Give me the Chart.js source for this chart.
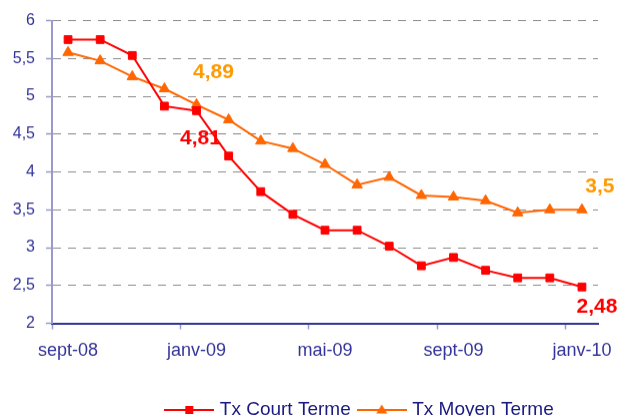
<!DOCTYPE html>
<html>
<head>
<meta charset="utf-8">
<script src="https://cdn.jsdelivr.net/npm/chart.js@4.4.1/dist/chart.umd.min.js"></script>
<style>
  html, body { margin: 0; padding: 0; background: #fff; overflow: hidden; }
  #wrap { width: 624px; height: 428.5px; }
</style>
</head>
<body>
<div id="wrap"><canvas id="chart"></canvas></div>
<script>
const months = ["sept-08", "oct-08", "nov-08", "déc-08", "janv-09", "févr-09", "mars-09", "avr-09",
  "mai-09", "juin-09", "juil-09", "août-09", "sept-09", "oct-09", "nov-09", "déc-09", "janv-10"];
const courtTerme = [5.75, 5.75, 5.54, 4.87, 4.81, 4.21, 3.74, 3.44, 3.23, 3.23, 3.02, 2.76, 2.87, 2.70, 2.60, 2.60, 2.48];
const moyenTerme = [5.58, 5.47, 5.26, 5.10, 4.89, 4.69, 4.41, 4.31, 4.10, 3.83, 3.93, 3.69, 3.67, 3.62, 3.46, 3.5, 3.5];
const seriesNames = ["Tx Court Terme", "Tx Moyen Terme"];
const yMin = 2, yMax = 6, yStep = 0.5;

const FONT = "'Liberation Sans', Arial, sans-serif";
const NAVY = "#333399";
const RED = "#ff0000";
const ORANGE = "#ff6600";

// value labels shown next to some points
const valueLabels = [
  { ds: 1, index: 4, dx: 17, dy: -32, color: "#ff9900" },
  { ds: 0, index: 4, dx: 4, dy: 28, color: RED },
  { ds: 1, index: 16, dx: 18, dy: -23, color: "#ff9900" },
  { ds: 0, index: 16, dx: 15, dy: 20, color: RED }
];

function fmt(v) {
  return String(v).replace(".", ",");
}

// legend icon: line with the marker in the middle
function legendIcon(color, style) {
  const c = document.createElement("canvas");
  c.width = 50;
  c.height = 14;
  const g = c.getContext("2d");
  g.strokeStyle = color;
  g.fillStyle = color;
  g.lineWidth = 2;
  g.beginPath();
  g.moveTo(0, 7);
  g.lineTo(50, 7);
  g.stroke();
  g.beginPath();
  if (style === "rect") {
    g.rect(21, 3, 8, 8);
  } else {
    g.moveTo(25, 1.5);
    g.lineTo(30.5, 10.5);
    g.lineTo(19.5, 10.5);
    g.closePath();
  }
  g.fill();
  return c;
}

const valueLabelPlugin = {
  id: "valueLabels",
  afterDatasetsDraw(chart) {
    const ctx = chart.ctx;
    ctx.save();
    ctx.font = "bold 21px " + FONT;
    ctx.textAlign = "center";
    ctx.textBaseline = "middle";
    valueLabels.forEach(l => {
      const pt = chart.getDatasetMeta(l.ds).data[l.index];
      const v = chart.data.datasets[l.ds].data[l.index];
      ctx.fillStyle = l.color;
      ctx.fillText(fmt(v), pt.x + l.dx, pt.y + l.dy);
    });
    ctx.restore();
  }
};

// the legend sits a bit right of centre in the original
const legendShift = {
  id: "legendShift",
  afterLayout(chart) {
    chart.legend.left += 62;
    chart.legend.right += 62;
  }
};

new Chart(document.getElementById("chart"), {
  type: "line",
  data: {
    labels: months,
    datasets: [
      {
        label: seriesNames[0],
        data: courtTerme,
        borderColor: RED,
        backgroundColor: RED,
        borderWidth: 2,
        pointStyle: "rect",
        pointRadius: 5.5,
        pointBorderWidth: 1,
        tension: 0
      },
      {
        label: seriesNames[1],
        data: moyenTerme,
        borderColor: ORANGE,
        backgroundColor: ORANGE,
        borderWidth: 2,
        pointStyle: "triangle",
        pointRadius: 6,
        pointBorderWidth: 1,
        tension: 0
      }
    ]
  },
  options: {
    responsive: true,
    maintainAspectRatio: false,
    animation: false,
    layout: { padding: { top: 20, right: 26, left: 0, bottom: 0 } },
    plugins: {
      tooltip: { enabled: false },
      legend: {
        position: "bottom",
        labels: {
          usePointStyle: true,
          pointStyleWidth: 42,
          padding: 10,
          color: "#1a1a80",
          font: { family: FONT, size: 19 },
          generateLabels: chart => chart.data.datasets.map((ds, i) => ({
            text: ds.label,
            pointStyle: legendIcon(ds.borderColor, ds.pointStyle),
            fillStyle: ds.backgroundColor,
            strokeStyle: ds.borderColor,
            lineWidth: 0,
            fontColor: "#1a1a80",
            datasetIndex: i
          }))
        }
      }
    },
    scales: {
      x: {
        offset: true,
        ticks: {
          autoSkip: false,
          maxRotation: 0,
          color: NAVY,
          padding: 11,
          font: { family: FONT, size: 18 },
          callback: (v, i) => i % 4 === 0 ? months[i] : ""
        },
        grid: {
          offset: true,
          drawOnChartArea: false,
          tickLength: 6,
          tickWidth: 1.5,
          tickColor: c => c.index % 4 === 0 ? "#9999cc" : "rgba(0,0,0,0)"
        },
        border: { color: NAVY, width: 2 },
        afterFit: s => { s.height = 67; }
      },
      y: {
        min: yMin,
        max: yMax,
        ticks: {
          stepSize: yStep,
          color: NAVY,
          padding: 11,
          font: { family: FONT, size: 16 },
          callback: v => fmt(v)
        },
        grid: {
          color: c => c.tick && c.tick.value === yMin ? "rgba(0,0,0,0)" : "#8c8c8c",
          lineWidth: 1,
          tickLength: 6,
          tickColor: "#9999cc",
          tickWidth: 1.5,
          tickBorderDash: []
        },
        border: { color: "#9999cc", width: 2, dash: [8, 7] },
        afterFit: s => { s.width = 52; }
      }
    }
  },
  plugins: [valueLabelPlugin, legendShift]
});
</script>
</body>
</html>
